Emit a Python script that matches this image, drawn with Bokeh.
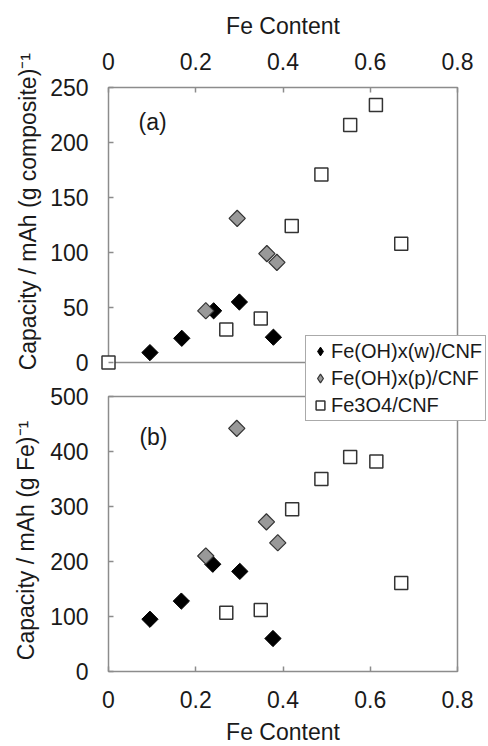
import math
from bokeh.plotting import figure
from bokeh.models import (Range1d, LinearAxis, FixedTicker, Label, Legend, LegendItem)
from bokeh.embed import file_html
from bokeh.resources import INLINE

# ---------------- data ----------------
x_ticks = [0, 0.2, 0.4, 0.6, 0.8]
x_tick_labels = ["0", "0.2", "0.4", "0.6", "0.8"]
a_ticks = [0, 50, 100, 150, 200, 250]
b_ticks = [0, 100, 200, 300, 400, 500]

series_names = ["Fe(OH)x(w)/CNF", "Fe(OH)x(p)/CNF", "Fe3O4/CNF"]

# panel (a): capacity per g composite
w_a_x = [0.095, 0.168, 0.241, 0.300, 0.378]
w_a_y = [9, 22, 47, 55, 23]
p_a_x = [0.223, 0.295, 0.363, 0.386]
p_a_y = [47, 131, 99, 91]
f_a_x = [0.0, 0.270, 0.349, 0.420, 0.488, 0.554, 0.613, 0.671]
f_a_y = [0, 30, 40, 124, 171, 216, 234, 108]

# panel (b): capacity per g Fe
w_b_x = [0.095, 0.167, 0.239, 0.301, 0.377]
w_b_y = [95, 128, 195, 182, 60]
p_b_x = [0.223, 0.294, 0.362, 0.388]
p_b_y = [210, 442, 272, 234]
f_b_x = [0.270, 0.349, 0.421, 0.488, 0.554, 0.614, 0.671]
f_b_y = [107, 112, 295, 350, 390, 382, 161]

# ---------------- layout ----------------
FONT = "Liberation Sans"
TXT = "#1a1a1a"
FRAME_COL = "#8c8c8c"
W, H = 488, 746
PANEL_LEFT, PANEL_RIGHT = 108, 457   # px of x=0 and x=0.8
A_ZERO = H - 362      # px from bottom where panel (a) y=0 sits
B_ZERO = H - 671      # px from bottom where panel (b) y=0 sits
A_SCALE = 275 / 250   # px per unit, panel (a)
B_SCALE = 275 / 500   # px per unit, panel (b)

XPX = (PANEL_RIGHT - PANEL_LEFT) / (x_ticks[-1] - x_ticks[0])
x_start = x_ticks[0] - PANEL_LEFT / XPX
x_end = x_ticks[-1] + (W - PANEL_RIGHT) / XPX

p = figure(frame_width=W, frame_height=H, min_border=0,
           min_border_left=0, min_border_right=0, min_border_top=0, min_border_bottom=0,
           x_range=Range1d(x_start, x_end), y_range=Range1d(0, H),
           x_axis_location=None, y_axis_location=None,
           output_backend="svg", toolbar_location=None)
p.outline_line_color = None
p.grid.visible = False
p.background_fill_color = "white"
p.border_fill_color = "white"

p.extra_y_ranges = {
    "a": Range1d(-A_ZERO / A_SCALE, (H - A_ZERO) / A_SCALE),
    "b": Range1d(-B_ZERO / B_SCALE, (H - B_ZERO) / B_SCALE),
}

# panel frames
for rng, top in (("a", a_ticks[-1]), ("b", b_ticks[-1])):
    p.quad(left=[x_ticks[0]], right=[x_ticks[-1]], bottom=[0], top=[top],
           y_range_name=rng, fill_color=None, line_color=FRAME_COL, line_width=1.5)

def style_axis(ax):
    ax.axis_line_color = None
    ax.major_tick_in = 5
    ax.major_tick_out = 0
    ax.minor_tick_line_color = None
    ax.major_tick_line_color = FRAME_COL
    ax.major_tick_line_width = 1.5
    ax.major_label_text_font = FONT
    ax.major_label_text_font_size = "23px"
    ax.major_label_text_color = TXT

xover = {t: l for t, l in zip(x_ticks, x_tick_labels)}
top_ax = LinearAxis(ticker=FixedTicker(ticks=x_ticks), major_label_overrides=xover,
                    fixed_location=A_ZERO + a_ticks[-1] * A_SCALE)
style_axis(top_ax)
top_ax.major_label_standoff = 18
p.add_layout(top_ax, "above")

bot_ax = LinearAxis(ticker=FixedTicker(ticks=x_ticks), major_label_overrides=xover,
                    fixed_location=B_ZERO)
style_axis(bot_ax)
bot_ax.major_label_standoff = 19
p.add_layout(bot_ax, "below")

y_pos, y_over = [], {}
for v in b_ticks:
    pos = int(round(B_ZERO + v * B_SCALE))
    y_pos.append(pos); y_over[pos] = str(v)
for v in a_ticks:
    pos = int(round(A_ZERO + v * A_SCALE))
    y_pos.append(pos); y_over[pos] = str(v)
left_ax = LinearAxis(ticker=FixedTicker(ticks=y_pos), major_label_overrides=y_over,
                     fixed_location=x_ticks[0])
style_axis(left_ax)
left_ax.major_label_standoff = 20
p.add_layout(left_ax, "left")

# ---------------- markers ----------------
styles = [
    dict(fill_color="#000000", line_color="#000000", line_width=1),
    dict(fill_color="#999999", line_color="#333333", line_width=1.2),
    dict(fill_color="#ffffff", line_color="#333333", line_width=1.5),
]
shapes = [
    dict(marker="square", angle=math.pi / 4, size=11.5),
    dict(marker="square", angle=math.pi / 4, size=11.5),
    dict(marker="square", angle=0, size=13),
]
series_a = [(w_a_x, w_a_y), (p_a_x, p_a_y), (f_a_x, f_a_y)]
series_b = [(w_b_x, w_b_y), (p_b_x, p_b_y), (f_b_x, f_b_y)]
for (xs, ys), st, sh in zip(series_a, styles, shapes):
    p.scatter(xs, ys, y_range_name="a", **st, **sh)
for (xs, ys), st, sh in zip(series_b, styles, shapes):
    p.scatter(xs, ys, y_range_name="b", **st, **sh)

# hidden proxy renderers for the legend (legend glyphs ignore marker angle)
legend_markers = ["diamond", "diamond", "square"]
leg_r = []
for (xs, ys), m, st in zip(series_a, legend_markers, styles):
    r = p.scatter(xs, ys, y_range_name="a", marker=m, **st)
    r.visible = False
    leg_r.append(r)

# ---------------- texts ----------------
def add_text(text, x, y, rng=None, x_units="data", angle=0, size="23px"):
    kw = dict(y_range_name=rng) if rng else {}
    p.add_layout(Label(x=x, y=y, x_units=x_units, text=text, angle=angle, angle_units="deg",
                       text_font=FONT, text_font_size=size, text_color=TXT,
                       text_align="center", text_baseline="middle", **kw))

x_mid = (x_ticks[0] + x_ticks[-1]) / 2
add_text("Fe Content", x_mid, H - 25)
add_text("Fe Content", x_mid, H - 731)
add_text("(a)", 0.101, 219, "a")
add_text("(b)", 0.103, 427, "b")
add_text("Capacity  / mAh (g composite)\u207b\u00b9", 27, 140, "a", x_units="screen", angle=90)
add_text("Capacity  / mAh (g Fe)\u207b\u00b9", 25, 244, "b", x_units="screen", angle=90)

legend = Legend(items=[LegendItem(label=n, renderers=[r]) for n, r in zip(series_names, leg_r)],
                location=(305, B_ZERO + 250), label_text_font=FONT, label_text_font_size="20px",
                label_text_color=TXT, glyph_width=22, glyph_height=24, label_standoff=0,
                padding=3, spacing=3, margin=0, border_line_color="#555555",
                border_line_width=1, background_fill_color="white", background_fill_alpha=1)
p.add_layout(legend)

open("out.html", "w").write(file_html(p, INLINE))
